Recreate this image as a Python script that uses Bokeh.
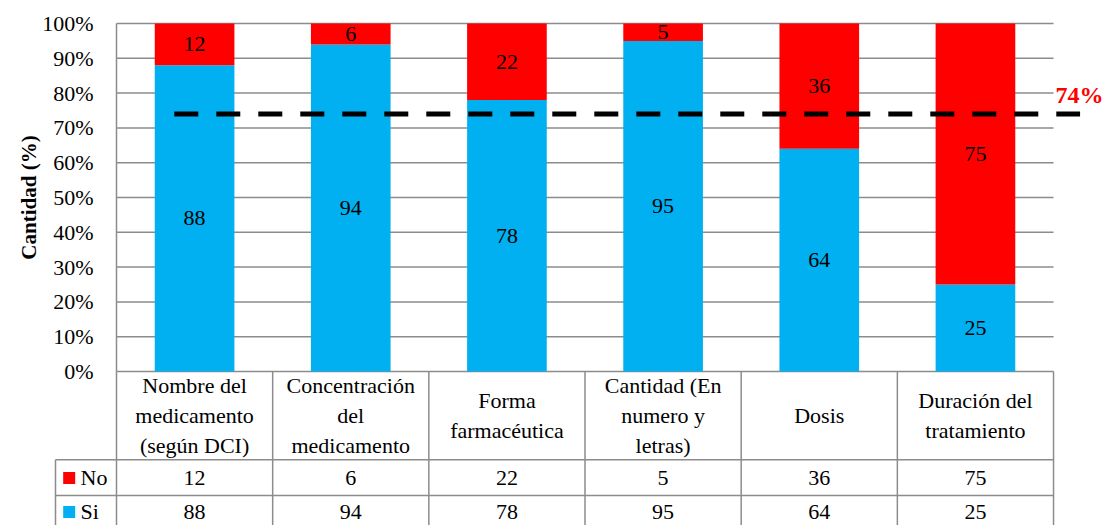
import math
from bokeh.plotting import figure
from bokeh.models import Range1d
from bokeh.core.properties import value
from bokeh.embed import file_html
from bokeh.resources import INLINE

# ---- data ----
categories = ["Nombre del\nmedicamento\n(según DCI)", "Concentración\ndel\nmedicamento",
              "Forma\nfarmacéutica", "Cantidad (En\nnumero y\nletras)", "Dosis",
              "Duración del\ntratamiento"]
si_values = [88, 94, 78, 95, 64, 25]
no_values = [12, 6, 22, 5, 36, 75]
series_names = ["No", "Si"]
y_ticks = [0, 10, 20, 30, 40, 50, 60, 70, 80, 90, 100]
y_tick_labels = ["0%", "10%", "20%", "30%", "40%", "50%", "60%", "70%", "80%", "90%", "100%"]
y_axis_title = "Cantidad (%)"
threshold = 74
threshold_label = "74%"

BLUE = "#00B0F0"
RED = "#FF0000"
GRID = "#8C8C8C"


def serif():
    return value("Liberation Serif, serif")


def serif_bold():
    return value("Times New Roman")


n = len(categories)
centers = [i + 0.5 for i in range(n)]

p = figure(width=1109, height=525, output_backend="svg", toolbar_location=None,
           x_range=Range1d(-0.7428, 6.3584), y_range=Range1d(-44.25, 106.61),
           min_border_left=0, min_border_right=0, min_border_top=0, min_border_bottom=0)
p.outline_line_color = None
p.xaxis.visible = False
p.yaxis.visible = False
p.xgrid.grid_line_color = None
p.ygrid.grid_line_color = None

# gridlines
p.segment(x0=[0] * len(y_ticks), x1=[n] * len(y_ticks), y0=y_ticks, y1=y_ticks,
          line_color=GRID, line_width=1.5)
# y axis line
p.segment(x0=[0], x1=[0], y0=[0], y1=[100], line_color=GRID, line_width=1.5)

# bars
bw = 0.51
p.vbar(x=centers, bottom=0, top=si_values, width=bw, fill_color=BLUE, line_color=None)
no_bottom = si_values
no_top = [s + v for s, v in zip(si_values, no_values)]
p.vbar(x=centers, bottom=no_bottom, top=no_top, width=bw, fill_color=RED, line_color=None)

# threshold line
p.segment(x0=[0.37], x1=[6.17], y0=[threshold], y1=[threshold], line_color="black",
          line_width=5, line_dash="24 18")

# data table lines
row_top = -25.37
row_mid = -35.63
bottom = -44.25
leg_left = -0.3906
p.segment(x0=list(range(n + 1)), x1=list(range(n + 1)), y0=[0] * (n + 1), y1=[bottom] * (n + 1),
          line_color=GRID, line_width=1.5)
p.segment(x0=[leg_left], x1=[leg_left], y0=[row_top], y1=[bottom], line_color=GRID, line_width=1.5)
p.segment(x0=[leg_left, leg_left], x1=[n, n], y0=[row_top, row_mid], y1=[row_top, row_mid],
          line_color=GRID, line_width=1.5)

no_y = -30.6
si_y = -40.37
p.scatter(x=[-0.303, -0.303], y=[no_y, si_y], marker="square", size=12,
          fill_color=[RED, BLUE], line_color=None)

# ---- texts ----
p.text(x=[-0.147] * len(y_ticks), y=y_ticks, text=y_tick_labels, text_align="right",
       text_baseline="middle", text_font=serif(), text_font_size="22px",
       text_font_style="normal")
p.text(x=centers, y=[s / 2 for s in si_values], text=[str(v) for v in si_values],
       text_align="center", text_baseline="middle", text_font=serif(), text_font_size="22px",
       text_font_style="normal")
p.text(x=centers, y=[s + v / 2 for s, v in zip(si_values, no_values)],
       text=[str(v) for v in no_values],
       text_align="center", text_baseline="middle", text_font=serif(), text_font_size="22px",
       text_font_style="normal")
p.text(x=centers, y=[-12.64] * n, text=categories, text_align="center", text_baseline="middle",
       text_font=serif(), text_font_size="22px", text_font_style="normal")
p.text(x=centers, y=[no_y] * n, text=[str(v) for v in no_values], text_align="center",
       text_baseline="middle", text_font=serif(), text_font_size="22px",
       text_font_style="normal")
p.text(x=centers, y=[si_y] * n, text=[str(v) for v in si_values], text_align="center",
       text_baseline="middle", text_font=serif(), text_font_size="22px",
       text_font_style="normal")
p.text(x=[-0.2305, -0.2305], y=[no_y, si_y], text=series_names, text_align="left",
       text_baseline="middle", text_font=serif(), text_font_size="22px",
       text_font_style="normal")

p.text(x=[-0.5635], y=[50], text=[y_axis_title], angle=math.pi / 2, text_align="center",
       text_baseline="middle", text_font=serif_bold(), text_font_size="21px",
       text_font_style="bold")
p.text(x=[6.0], y=[threshold], text=[threshold_label], x_offset=2, y_offset=-19,
       text_align="left", text_baseline="middle", text_font=serif_bold(), text_font_size="24px",
       text_font_style="bold", text_color=RED)

open("out.html", "w").write(file_html(p, INLINE))
